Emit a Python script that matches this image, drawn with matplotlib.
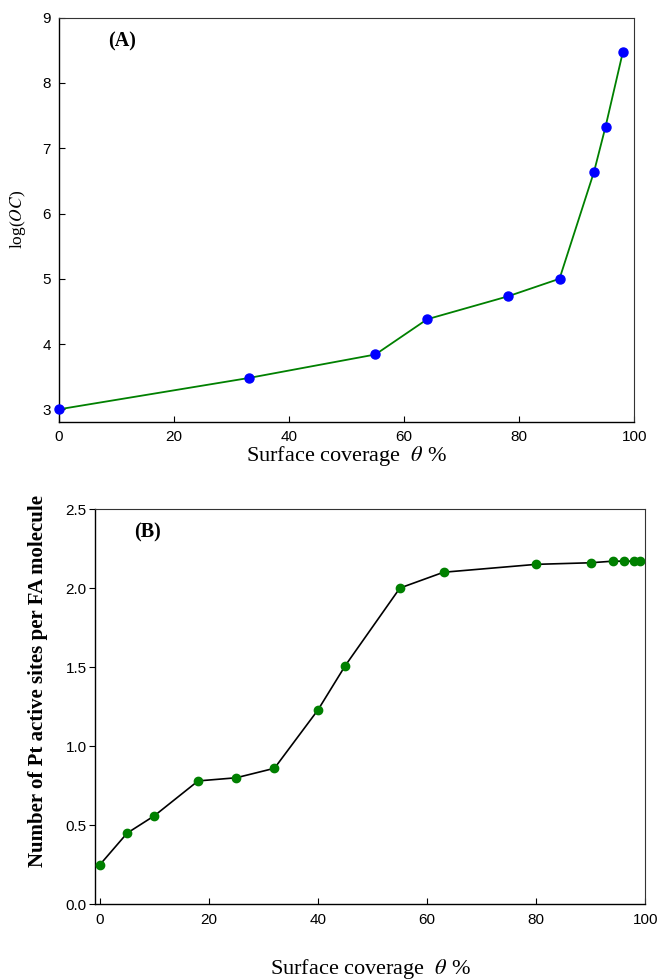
import matplotlib
matplotlib.use("Agg")
import matplotlib.pyplot as plt

# (A) log(OC) vs surface coverage
theta_a = [0, 33, 55, 64, 78, 87, 93, 95, 98]
log_oc = [3.0, 3.48, 3.84, 4.38, 4.73, 5.0, 6.64, 7.33, 8.47]

# (B) Pt active sites per FA molecule vs surface coverage
theta_b = [0, 5, 10, 18, 25, 32, 40, 45, 55, 63, 80, 90, 94, 96, 98, 99]
n_sites = [0.25, 0.45, 0.56, 0.78, 0.80, 0.86, 1.23, 1.51, 2.0, 2.10, 2.15, 2.16, 2.17, 2.17, 2.17, 2.17]

plt.rcParams["mathtext.fontset"] = "stix"
serif = "Liberation Serif"
sans = "Liberation Sans"
xlab = r"Surface coverage  $\mathit{\theta}$ %"

fig = plt.figure(figsize=(6.61, 9.8), dpi=100)

# top panel
ax1 = fig.add_axes([0.0893, 0.5697, 0.8703, 0.4122])
ax1.plot(theta_a, log_oc, "-", color="green", lw=1.3, zorder=2)
ax1.plot(theta_a, log_oc, "o", color="blue", ms=6.5, zorder=3, clip_on=False)
ax1.set_xlim(0, 100)
ax1.set_ylim(2.81, 9)
ax1.set_xticks([0, 20, 40, 60, 80, 100])
ax1.set_yticks([3, 4, 5, 6, 7, 8, 9])
ax1.tick_params(direction="in", length=4, width=0.8, labelsize=11, pad=6)
ax1.set_xlabel(xlab, family=serif, fontsize=16, labelpad=0)
ax1.text(-0.072, 0.5, r"log($\mathit{OC}$)", transform=ax1.transAxes, rotation=90,
         ha="center", va="center", family=serif, fontsize=12.5)
ax1.text(0.085, 0.94, "(A)", transform=ax1.transAxes, family=serif,
         fontweight="bold", fontsize=14.5, ha="left", va="center")

# bottom panel
ax2 = fig.add_axes([0.1437, 0.0773, 0.8326, 0.4033])
ax2.plot(theta_b, n_sites, "-", color="black", lw=1.2, zorder=2)
ax2.plot(theta_b, n_sites, "o", color="green", ms=6, zorder=3, clip_on=False)
ax2.set_xlim(-0.9, 99.8)
ax2.set_ylim(0, 2.5)
ax2.set_xticks([0, 20, 40, 60, 80, 100])
ax2.set_yticks([0.0, 0.5, 1.0, 1.5, 2.0, 2.5])
ax2.set_yticklabels(["0.0", "0.5", "1.0", "1.5", "2.0", "2.5"])
ax2.tick_params(axis="x", direction="in", length=4, width=0.8, labelsize=11, pad=6)
ax2.tick_params(axis="y", direction="out", length=4, width=0.8, labelsize=11, pad=2)
ax2.set_xlabel(xlab, family=serif, fontsize=16, labelpad=22)
ax2.text(-0.104, 0.565, "Number of Pt active sites per FA molecule",
         transform=ax2.transAxes, rotation=90, ha="center", va="center",
         family=serif, fontweight="bold", fontsize=15)
ax2.text(0.072, 0.94, "(B)", transform=ax2.transAxes, family=serif,
         fontweight="bold", fontsize=14.5, ha="left", va="center")

for ax in (ax1, ax2):
    for lab in ax.get_xticklabels() + ax.get_yticklabels():
        lab.set_family(sans)
    for side in ("left", "bottom"):
        ax.spines[side].set_linewidth(1.0)
    for side in ("top", "right"):
        ax.spines[side].set_linewidth(0.8)
        ax.spines[side].set_color("#333333")
    ax.tick_params(top=False, right=False)

fig.savefig("out.png", dpi=100)
